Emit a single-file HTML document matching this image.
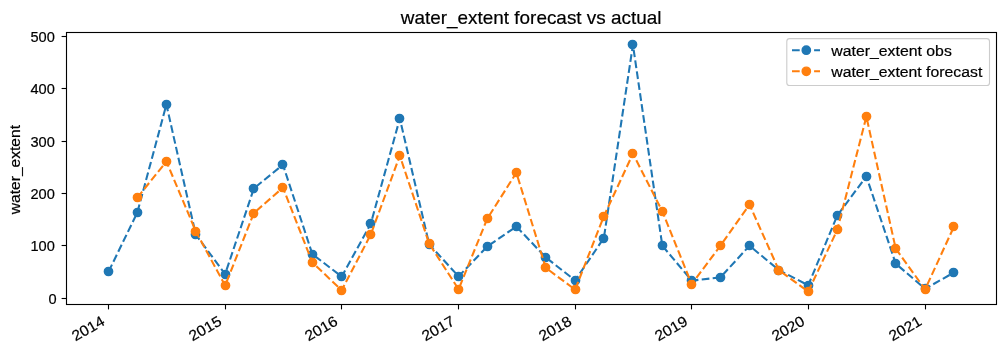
<!DOCTYPE html><html><head><meta charset="utf-8"><style>html,body{margin:0;padding:0;background:#fff;overflow:hidden;}svg{display:block;will-change:transform;}text{font-family:"Liberation Sans",sans-serif;stroke:#000;stroke-width:0.2px;}</style></head><body>
<svg width="1005" height="353" viewBox="0 0 1005 353">
<rect x="0" y="0" width="1005" height="353" fill="#fff"/>
<text x="531.15" y="23.9" font-size="19" text-anchor="middle" textLength="260.7" lengthAdjust="spacingAndGlyphs" fill="#000">water_extent forecast vs actual</text>
<line x1="61.6" y1="298.50" x2="66.5" y2="298.50" stroke="#000" stroke-width="1.111"/>
<text x="56.5" y="303.70" font-size="14.6" text-anchor="end" textLength="8.12" lengthAdjust="spacingAndGlyphs" fill="#000">0</text>
<line x1="61.6" y1="245.50" x2="66.5" y2="245.50" stroke="#000" stroke-width="1.111"/>
<text x="54.85" y="250.70" font-size="14.6" text-anchor="end" textLength="24.36" lengthAdjust="spacingAndGlyphs" fill="#000">100</text>
<line x1="61.6" y1="193.50" x2="66.5" y2="193.50" stroke="#000" stroke-width="1.111"/>
<text x="54.85" y="198.70" font-size="14.6" text-anchor="end" textLength="24.36" lengthAdjust="spacingAndGlyphs" fill="#000">200</text>
<line x1="61.6" y1="141.50" x2="66.5" y2="141.50" stroke="#000" stroke-width="1.111"/>
<text x="54.85" y="146.70" font-size="14.6" text-anchor="end" textLength="24.36" lengthAdjust="spacingAndGlyphs" fill="#000">300</text>
<line x1="61.6" y1="88.50" x2="66.5" y2="88.50" stroke="#000" stroke-width="1.111"/>
<text x="54.85" y="93.70" font-size="14.6" text-anchor="end" textLength="24.36" lengthAdjust="spacingAndGlyphs" fill="#000">400</text>
<line x1="61.6" y1="36.50" x2="66.5" y2="36.50" stroke="#000" stroke-width="1.111"/>
<text x="54.85" y="41.70" font-size="14.6" text-anchor="end" textLength="24.36" lengthAdjust="spacingAndGlyphs" fill="#000">500</text>
<text transform="translate(20.3,169.6) rotate(-90)" x="0" y="0" font-size="14.5" text-anchor="middle" textLength="89.3" lengthAdjust="spacingAndGlyphs" fill="#000">water_extent</text>
<line x1="108.50" y1="304.5" x2="108.50" y2="309.4" stroke="#000" stroke-width="1.111"/>
<text transform="translate(100.50,315.20) rotate(-30)" x="0" y="0" dy="0" font-size="14.8" text-anchor="end" textLength="34.80" lengthAdjust="spacingAndGlyphs" fill="#000" dominant-baseline="hanging">2014</text>
<line x1="225.50" y1="304.5" x2="225.50" y2="309.4" stroke="#000" stroke-width="1.111"/>
<text transform="translate(217.50,315.20) rotate(-30)" x="0" y="0" dy="0" font-size="14.8" text-anchor="end" textLength="34.80" lengthAdjust="spacingAndGlyphs" fill="#000" dominant-baseline="hanging">2015</text>
<line x1="341.50" y1="304.5" x2="341.50" y2="309.4" stroke="#000" stroke-width="1.111"/>
<text transform="translate(333.50,315.20) rotate(-30)" x="0" y="0" dy="0" font-size="14.8" text-anchor="end" textLength="34.80" lengthAdjust="spacingAndGlyphs" fill="#000" dominant-baseline="hanging">2016</text>
<line x1="458.50" y1="304.5" x2="458.50" y2="309.4" stroke="#000" stroke-width="1.111"/>
<text transform="translate(450.50,315.20) rotate(-30)" x="0" y="0" dy="0" font-size="14.8" text-anchor="end" textLength="34.80" lengthAdjust="spacingAndGlyphs" fill="#000" dominant-baseline="hanging">2017</text>
<line x1="575.50" y1="304.5" x2="575.50" y2="309.4" stroke="#000" stroke-width="1.111"/>
<text transform="translate(567.50,315.20) rotate(-30)" x="0" y="0" dy="0" font-size="14.8" text-anchor="end" textLength="34.80" lengthAdjust="spacingAndGlyphs" fill="#000" dominant-baseline="hanging">2018</text>
<line x1="691.50" y1="304.5" x2="691.50" y2="309.4" stroke="#000" stroke-width="1.111"/>
<text transform="translate(683.50,315.20) rotate(-30)" x="0" y="0" dy="0" font-size="14.8" text-anchor="end" textLength="34.80" lengthAdjust="spacingAndGlyphs" fill="#000" dominant-baseline="hanging">2019</text>
<line x1="808.50" y1="304.5" x2="808.50" y2="309.4" stroke="#000" stroke-width="1.111"/>
<text transform="translate(800.50,315.20) rotate(-30)" x="0" y="0" dy="0" font-size="14.8" text-anchor="end" textLength="34.80" lengthAdjust="spacingAndGlyphs" fill="#000" dominant-baseline="hanging">2020</text>
<line x1="925.50" y1="304.5" x2="925.50" y2="309.4" stroke="#000" stroke-width="1.111"/>
<text transform="translate(917.50,315.20) rotate(-30)" x="0" y="0" dy="0" font-size="14.8" text-anchor="end" textLength="34.80" lengthAdjust="spacingAndGlyphs" fill="#000" dominant-baseline="hanging">2021</text>
<defs><clipPath id="ax"><rect x="66.5" y="32.5" width="930.0" height="272.0"/></clipPath></defs>
<g clip-path="url(#ax)">
<polyline points="108.59,271.60 137.33,212.50 166.39,104.60 195.77,234.60 225.15,274.10 253.89,188.40 282.94,164.70 312.32,254.10 341.70,276.60 370.76,223.80 399.82,118.60 429.20,244.40 458.58,276.40 487.32,246.50 516.37,226.50 545.75,257.40 575.13,280.40 603.87,238.00 632.93,44.80 662.31,245.70 691.69,280.60 720.43,277.40 749.49,245.70 778.86,270.10 808.24,285.30 837.30,215.50 866.36,176.40 895.74,263.70 925.12,288.80 953.86,272.60" fill="none" stroke="#1f77b4" stroke-width="2.083" stroke-dasharray="7.708 3.333" stroke-linejoin="round" stroke-linecap="butt"/>
<circle cx="108.50" cy="271.50" r="4.167" fill="#1f77b4" stroke="#1f77b4" stroke-width="1.389"/>
<circle cx="137.50" cy="212.50" r="4.167" fill="#1f77b4" stroke="#1f77b4" stroke-width="1.389"/>
<circle cx="166.50" cy="104.50" r="4.167" fill="#1f77b4" stroke="#1f77b4" stroke-width="1.389"/>
<circle cx="195.50" cy="234.50" r="4.167" fill="#1f77b4" stroke="#1f77b4" stroke-width="1.389"/>
<circle cx="225.50" cy="274.50" r="4.167" fill="#1f77b4" stroke="#1f77b4" stroke-width="1.389"/>
<circle cx="253.50" cy="188.50" r="4.167" fill="#1f77b4" stroke="#1f77b4" stroke-width="1.389"/>
<circle cx="282.50" cy="164.50" r="4.167" fill="#1f77b4" stroke="#1f77b4" stroke-width="1.389"/>
<circle cx="312.50" cy="254.50" r="4.167" fill="#1f77b4" stroke="#1f77b4" stroke-width="1.389"/>
<circle cx="341.50" cy="276.50" r="4.167" fill="#1f77b4" stroke="#1f77b4" stroke-width="1.389"/>
<circle cx="370.50" cy="223.50" r="4.167" fill="#1f77b4" stroke="#1f77b4" stroke-width="1.389"/>
<circle cx="399.50" cy="118.50" r="4.167" fill="#1f77b4" stroke="#1f77b4" stroke-width="1.389"/>
<circle cx="429.50" cy="244.50" r="4.167" fill="#1f77b4" stroke="#1f77b4" stroke-width="1.389"/>
<circle cx="458.50" cy="276.50" r="4.167" fill="#1f77b4" stroke="#1f77b4" stroke-width="1.389"/>
<circle cx="487.50" cy="246.50" r="4.167" fill="#1f77b4" stroke="#1f77b4" stroke-width="1.389"/>
<circle cx="516.50" cy="226.50" r="4.167" fill="#1f77b4" stroke="#1f77b4" stroke-width="1.389"/>
<circle cx="545.50" cy="257.50" r="4.167" fill="#1f77b4" stroke="#1f77b4" stroke-width="1.389"/>
<circle cx="575.50" cy="280.50" r="4.167" fill="#1f77b4" stroke="#1f77b4" stroke-width="1.389"/>
<circle cx="603.50" cy="238.50" r="4.167" fill="#1f77b4" stroke="#1f77b4" stroke-width="1.389"/>
<circle cx="632.50" cy="44.50" r="4.167" fill="#1f77b4" stroke="#1f77b4" stroke-width="1.389"/>
<circle cx="662.50" cy="245.50" r="4.167" fill="#1f77b4" stroke="#1f77b4" stroke-width="1.389"/>
<circle cx="691.50" cy="280.50" r="4.167" fill="#1f77b4" stroke="#1f77b4" stroke-width="1.389"/>
<circle cx="720.50" cy="277.50" r="4.167" fill="#1f77b4" stroke="#1f77b4" stroke-width="1.389"/>
<circle cx="749.50" cy="245.50" r="4.167" fill="#1f77b4" stroke="#1f77b4" stroke-width="1.389"/>
<circle cx="778.50" cy="270.50" r="4.167" fill="#1f77b4" stroke="#1f77b4" stroke-width="1.389"/>
<circle cx="808.50" cy="285.50" r="4.167" fill="#1f77b4" stroke="#1f77b4" stroke-width="1.389"/>
<circle cx="837.50" cy="215.50" r="4.167" fill="#1f77b4" stroke="#1f77b4" stroke-width="1.389"/>
<circle cx="866.50" cy="176.50" r="4.167" fill="#1f77b4" stroke="#1f77b4" stroke-width="1.389"/>
<circle cx="895.50" cy="263.50" r="4.167" fill="#1f77b4" stroke="#1f77b4" stroke-width="1.389"/>
<circle cx="925.50" cy="288.50" r="4.167" fill="#1f77b4" stroke="#1f77b4" stroke-width="1.389"/>
<circle cx="953.50" cy="272.50" r="4.167" fill="#1f77b4" stroke="#1f77b4" stroke-width="1.389"/>

<polyline points="137.33,197.60 166.39,161.50 195.77,231.20 225.15,285.60 253.89,213.00 282.94,187.60 312.32,262.40 341.70,290.30 370.76,234.50 399.82,155.70 429.20,243.70 458.58,289.30 487.32,218.60 516.37,172.70 545.75,267.80 575.13,289.60 603.87,216.20 632.93,153.70 662.31,211.30 691.69,284.10 720.43,245.70 749.49,204.60 778.86,270.10 808.24,291.60 837.30,229.80 866.36,116.70 895.74,248.70 925.12,289.40 953.86,226.80" fill="none" stroke="#ff7f0e" stroke-width="2.083" stroke-dasharray="7.708 3.333" stroke-linejoin="round" stroke-linecap="butt"/>
<circle cx="137.50" cy="197.50" r="4.167" fill="#ff7f0e" stroke="#ff7f0e" stroke-width="1.389"/>
<circle cx="166.50" cy="161.50" r="4.167" fill="#ff7f0e" stroke="#ff7f0e" stroke-width="1.389"/>
<circle cx="195.50" cy="231.50" r="4.167" fill="#ff7f0e" stroke="#ff7f0e" stroke-width="1.389"/>
<circle cx="225.50" cy="285.50" r="4.167" fill="#ff7f0e" stroke="#ff7f0e" stroke-width="1.389"/>
<circle cx="253.50" cy="213.50" r="4.167" fill="#ff7f0e" stroke="#ff7f0e" stroke-width="1.389"/>
<circle cx="282.50" cy="187.50" r="4.167" fill="#ff7f0e" stroke="#ff7f0e" stroke-width="1.389"/>
<circle cx="312.50" cy="262.50" r="4.167" fill="#ff7f0e" stroke="#ff7f0e" stroke-width="1.389"/>
<circle cx="341.50" cy="290.50" r="4.167" fill="#ff7f0e" stroke="#ff7f0e" stroke-width="1.389"/>
<circle cx="370.50" cy="234.50" r="4.167" fill="#ff7f0e" stroke="#ff7f0e" stroke-width="1.389"/>
<circle cx="399.50" cy="155.50" r="4.167" fill="#ff7f0e" stroke="#ff7f0e" stroke-width="1.389"/>
<circle cx="429.50" cy="243.50" r="4.167" fill="#ff7f0e" stroke="#ff7f0e" stroke-width="1.389"/>
<circle cx="458.50" cy="289.50" r="4.167" fill="#ff7f0e" stroke="#ff7f0e" stroke-width="1.389"/>
<circle cx="487.50" cy="218.50" r="4.167" fill="#ff7f0e" stroke="#ff7f0e" stroke-width="1.389"/>
<circle cx="516.50" cy="172.50" r="4.167" fill="#ff7f0e" stroke="#ff7f0e" stroke-width="1.389"/>
<circle cx="545.50" cy="267.50" r="4.167" fill="#ff7f0e" stroke="#ff7f0e" stroke-width="1.389"/>
<circle cx="575.50" cy="289.50" r="4.167" fill="#ff7f0e" stroke="#ff7f0e" stroke-width="1.389"/>
<circle cx="603.50" cy="216.50" r="4.167" fill="#ff7f0e" stroke="#ff7f0e" stroke-width="1.389"/>
<circle cx="632.50" cy="153.50" r="4.167" fill="#ff7f0e" stroke="#ff7f0e" stroke-width="1.389"/>
<circle cx="662.50" cy="211.50" r="4.167" fill="#ff7f0e" stroke="#ff7f0e" stroke-width="1.389"/>
<circle cx="691.50" cy="284.50" r="4.167" fill="#ff7f0e" stroke="#ff7f0e" stroke-width="1.389"/>
<circle cx="720.50" cy="245.50" r="4.167" fill="#ff7f0e" stroke="#ff7f0e" stroke-width="1.389"/>
<circle cx="749.50" cy="204.50" r="4.167" fill="#ff7f0e" stroke="#ff7f0e" stroke-width="1.389"/>
<circle cx="778.50" cy="270.50" r="4.167" fill="#ff7f0e" stroke="#ff7f0e" stroke-width="1.389"/>
<circle cx="808.50" cy="291.50" r="4.167" fill="#ff7f0e" stroke="#ff7f0e" stroke-width="1.389"/>
<circle cx="837.50" cy="229.50" r="4.167" fill="#ff7f0e" stroke="#ff7f0e" stroke-width="1.389"/>
<circle cx="866.50" cy="116.50" r="4.167" fill="#ff7f0e" stroke="#ff7f0e" stroke-width="1.389"/>
<circle cx="895.50" cy="248.50" r="4.167" fill="#ff7f0e" stroke="#ff7f0e" stroke-width="1.389"/>
<circle cx="925.50" cy="289.50" r="4.167" fill="#ff7f0e" stroke="#ff7f0e" stroke-width="1.389"/>
<circle cx="953.50" cy="226.50" r="4.167" fill="#ff7f0e" stroke="#ff7f0e" stroke-width="1.389"/>

</g>
<rect x="66.5" y="32.5" width="930.0" height="272.0" fill="none" stroke="#000" stroke-width="1.111" stroke-linejoin="miter"/>
<rect x="786.8" y="38.6" width="202.7" height="46.9" rx="2.8" ry="2.8" fill="#fff" fill-opacity="0.8" stroke="#cccccc" stroke-width="1.111"/>
<line x1="792" y1="50.2" x2="820" y2="50.2" stroke="#1f77b4" stroke-width="2.083" stroke-dasharray="7.708 3.333"/>
<circle cx="806.3" cy="50.2" r="4.167" fill="#1f77b4" stroke="#1f77b4" stroke-width="1.389"/>
<text x="831.3" y="55.60" font-size="15.2" textLength="120.5" lengthAdjust="spacingAndGlyphs" fill="#000">water_extent obs</text>
<line x1="792" y1="71.3" x2="820" y2="71.3" stroke="#ff7f0e" stroke-width="2.083" stroke-dasharray="7.708 3.333"/>
<circle cx="806.3" cy="71.3" r="4.167" fill="#ff7f0e" stroke="#ff7f0e" stroke-width="1.389"/>
<text x="831.3" y="76.70" font-size="15.2" textLength="151.0" lengthAdjust="spacingAndGlyphs" fill="#000">water_extent forecast</text>
</svg></body></html>
